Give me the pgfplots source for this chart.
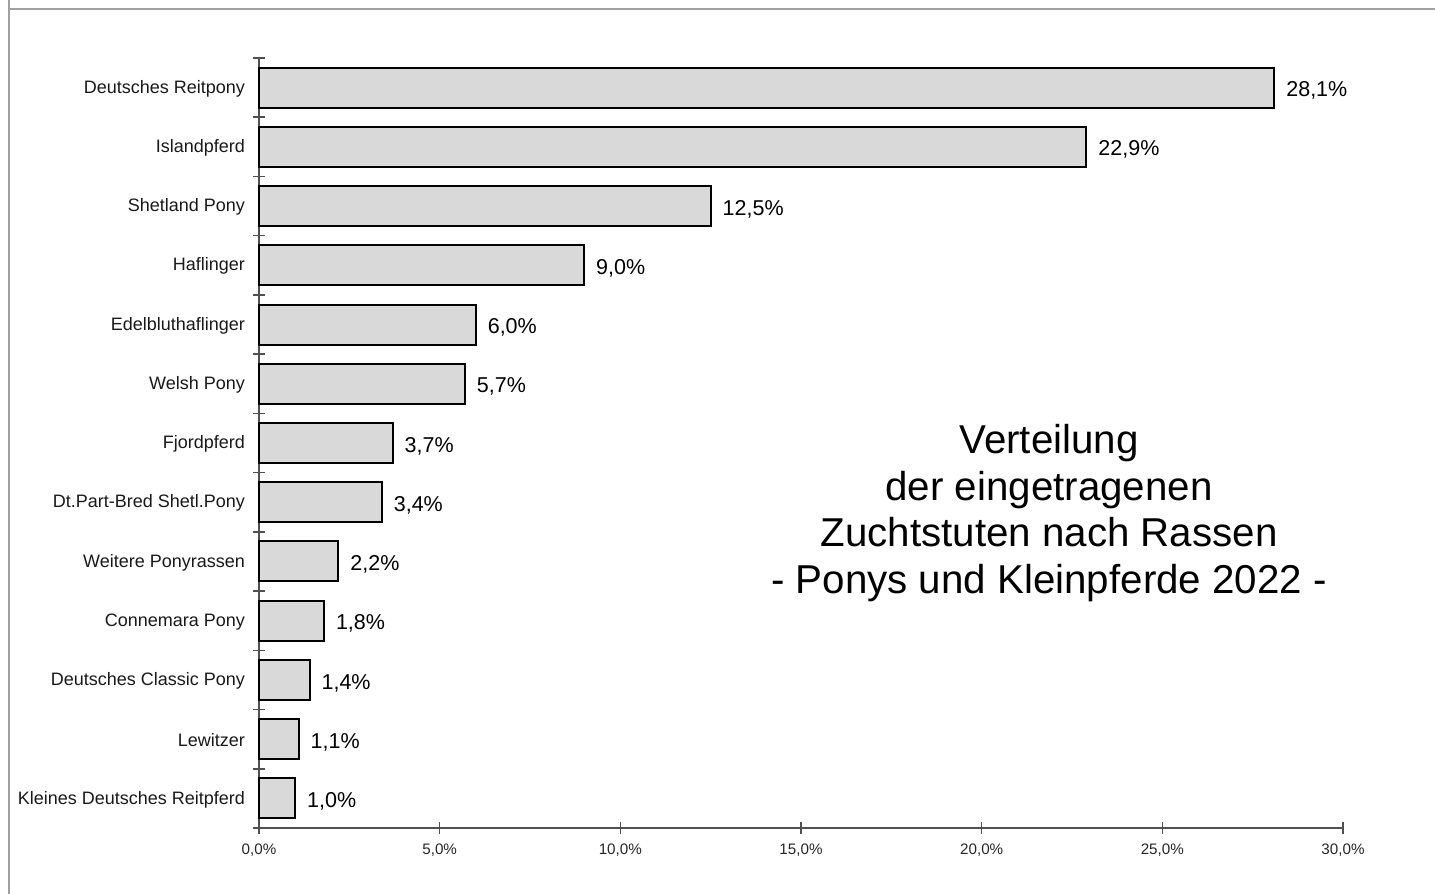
\documentclass[border=0pt]{standalone}
\usepackage{pgfplots}
\pgfplotsset{compat=1.18}
\usepackage{fontspec}
\setmainfont{Liberation Sans}
\definecolor{barfill}{RGB}{217,217,217}
\definecolor{axisgray}{RGB}{80,80,80}
\definecolor{framegray}{RGB}{160,160,160}
\begin{document}
\begin{tikzpicture}
\path[use as bounding box] (0pt,0pt) rectangle (717.5pt,447pt);
\draw[framegray, line width=1pt] (4.25pt,447pt) -- (4.25pt,442.5pt) -- (717.5pt,442.5pt);
\draw[framegray, line width=1pt] (4.25pt,442.5pt) -- (4.25pt,0pt);
\begin{axis}[
  at={(129.5pt,33pt)}, anchor=south west,
  width=542pt, height=385pt, scale only axis,
  xbar, bar width=20pt,
  xmin=0, xmax=30, ymin=-0.5, ymax=12.5, y dir=reverse,
  axis lines*=left,
  axis line style={draw=axisgray, line width=0.8pt},
  tick align=center,
  major tick length=6pt, minor tick length=6pt,
  tick style={draw=axisgray, line width=0.8pt},
  every major y tick/.style={draw=none},
  every minor y tick/.style={draw=axisgray, line width=0.8pt},
  xtick={0,5,...,30},
  xticklabels={{0,0\%},{5,0\%},{10,0\%},{15,0\%},{20,0\%},{25,0\%},{30,0\%}},
  x tick label style={font=\fontsize{7.6pt}{9pt}\selectfont, text=black!85, yshift=-1.5pt},
  ytick={0,...,12},
  minor ytick={-0.5,0.5,...,12.5},
  yticklabels={Deutsches Reitpony,Islandpferd,Shetland Pony,Haflinger,Edelbluthaflinger,Welsh Pony,Fjordpferd,Dt.Part-Bred Shetl.Pony,Weitere Ponyrassen,Connemara Pony,Deutsches Classic Pony,Lewitzer,Kleines Deutsches Reitpferd},
  y tick label style={font=\fontsize{9pt}{10pt}\selectfont, text=black!90, xshift=-0.5pt, yshift=-0.5pt},
  /pgf/number format/assume math mode=true,
  nodes near coords={\pgfmathprintnumber[fixed,fixed zerofill,precision=1,use comma]{\pgfplotspointmeta}\%},
  every node near coord/.append style={font=\fontsize{10.75pt}{12pt}\selectfont, anchor=west, inner sep=0pt, xshift=5.5pt, yshift=-1.5pt},
  clip=false,
]
\addplot[fill=barfill, draw=black, line width=1pt] coordinates {
  (28.1,0) (22.9,1) (12.5,2) (9.0,3) (6.0,4) (5.7,5) (3.7,6) (3.4,7) (2.2,8) (1.8,9) (1.4,10) (1.1,11) (1.0,12)
};
\end{axis}
\node[align=center, font=\fontsize{20.15pt}{23.35pt}\selectfont] at (524.5pt,190.5pt) {Verteilung\\der eingetragenen\\Zuchtstuten nach Rassen\\- Ponys und Kleinpferde 2022 -};
\end{tikzpicture}
\end{document}
